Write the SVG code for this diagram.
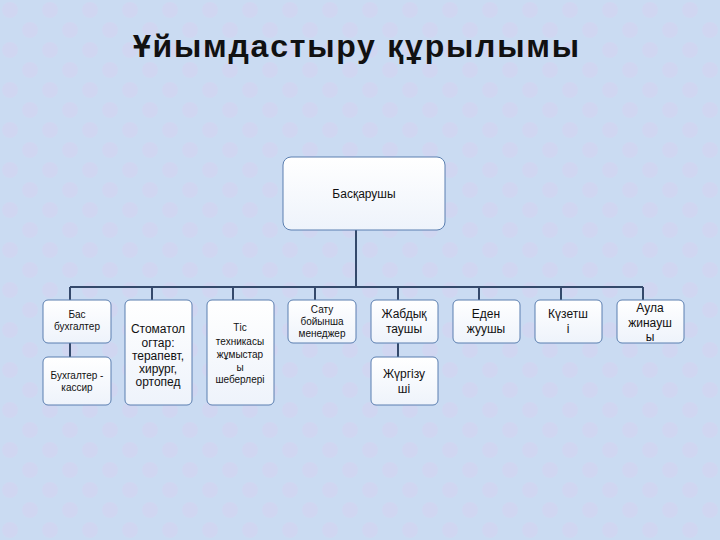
<svg xmlns="http://www.w3.org/2000/svg" width="720" height="540" viewBox="0 0 720 540">
<defs>
<pattern id="bg" width="40" height="40" patternUnits="userSpaceOnUse">
<rect width="40" height="40" fill="#cadbf2"/>
<circle cx="10" cy="10" r="8" fill="#d6d2ef" opacity="0.5"/>
<circle cx="30" cy="30" r="8" fill="#d6d2ef" opacity="0.5"/>
</pattern>
<linearGradient id="g" x1="0" y1="0" x2="0" y2="1"><stop offset="0" stop-color="#ffffff"/><stop offset="1" stop-color="#eef3fb"/></linearGradient>
</defs>
<style>
.b{fill:url(#g);stroke:#5b7fb0;stroke-width:1}
.t{font-family:"Liberation Sans",Arial,sans-serif;font-size:12px;fill:#111;text-anchor:middle}
.s{font-size:10px}
.l{stroke:#34496b;stroke-width:2;fill:none}
</style>
<rect width="720" height="540" fill="url(#bg)"/>
<text x="356" y="57" font-family="Liberation Sans,Arial,sans-serif" font-size="32" font-weight="bold" text-anchor="middle" fill="#111" textLength="446" lengthAdjust="spacing">Ұйымдастыру құрылымы</text>
<g id="connectors">
<path class="l" d="M356 230V287M70 287H643M70 287V300M152 287V300M233 287V300M315 287V300M398 287V300M479 287V300M561 287V300M643 287V300M70 343V357M398 343V357"/>
</g>
<g id="n0"><rect class="b" x="283" y="157" width="162" height="73" rx="8"/><text class="t" x="364" y="198">Басқарушы</text></g>
<g id="n1"><rect class="b" x="43" y="300" width="68" height="43" rx="5"/><text class="t s" x="77" y="318">Бас</text><text class="t s" x="77" y="330">бухгалтер</text></g>
<g id="n1b"><rect class="b" x="43" y="357" width="68" height="48" rx="5"/><text class="t s" x="77" y="379">Бухгалтер -</text><text class="t s" x="77" y="391">кассир</text></g>
<g id="n2"><rect class="b" x="125" y="300" width="67" height="105" rx="5"/><text class="t" x="158" y="333">Стоматол</text><text class="t" x="158" y="347">огтар:</text><text class="t" x="158" y="360">терапевт,</text><text class="t" x="158" y="373">хирург,</text><text class="t" x="158" y="386">ортопед</text></g>
<g id="n3"><rect class="b" x="207" y="300" width="67" height="105" rx="5"/><text class="t s" x="240" y="331">Тіс</text><text class="t s" x="240" y="345">техникасы</text><text class="t s" x="240" y="358">жұмыстар</text><text class="t s" x="240" y="371">ы</text><text class="t s" x="240" y="383">шеберлері</text></g>
<g id="n4"><rect class="b" x="288" y="300" width="68" height="43" rx="5"/><text class="t s" x="322" y="313">Сату</text><text class="t s" x="322" y="325">бойынша</text><text class="t s" x="322" y="337">менеджер</text></g>
<g id="n5"><rect class="b" x="371" y="300" width="67" height="43" rx="5"/><text class="t" x="404" y="318">Жабдық</text><text class="t" x="404" y="333">таушы</text></g>
<g id="n5b"><rect class="b" x="371" y="357" width="67" height="48" rx="5"/><text class="t" x="404" y="378">Жүргізу</text><text class="t" x="404" y="393">ші</text></g>
<g id="n6"><rect class="b" x="453" y="300" width="67" height="43" rx="5"/><text class="t" x="486" y="318">Еден</text><text class="t" x="486" y="333">жуушы</text></g>
<g id="n7"><rect class="b" x="535" y="300" width="67" height="43" rx="5"/><text class="t" x="568" y="318">Күзетш</text><text class="t" x="568" y="333">і</text></g>
<g id="n8"><rect class="b" x="617" y="300" width="67" height="43" rx="5"/><text class="t" x="650" y="312">Аула</text><text class="t" x="650" y="327">жинауш</text><text class="t" x="650" y="341">ы</text></g>
</svg>
